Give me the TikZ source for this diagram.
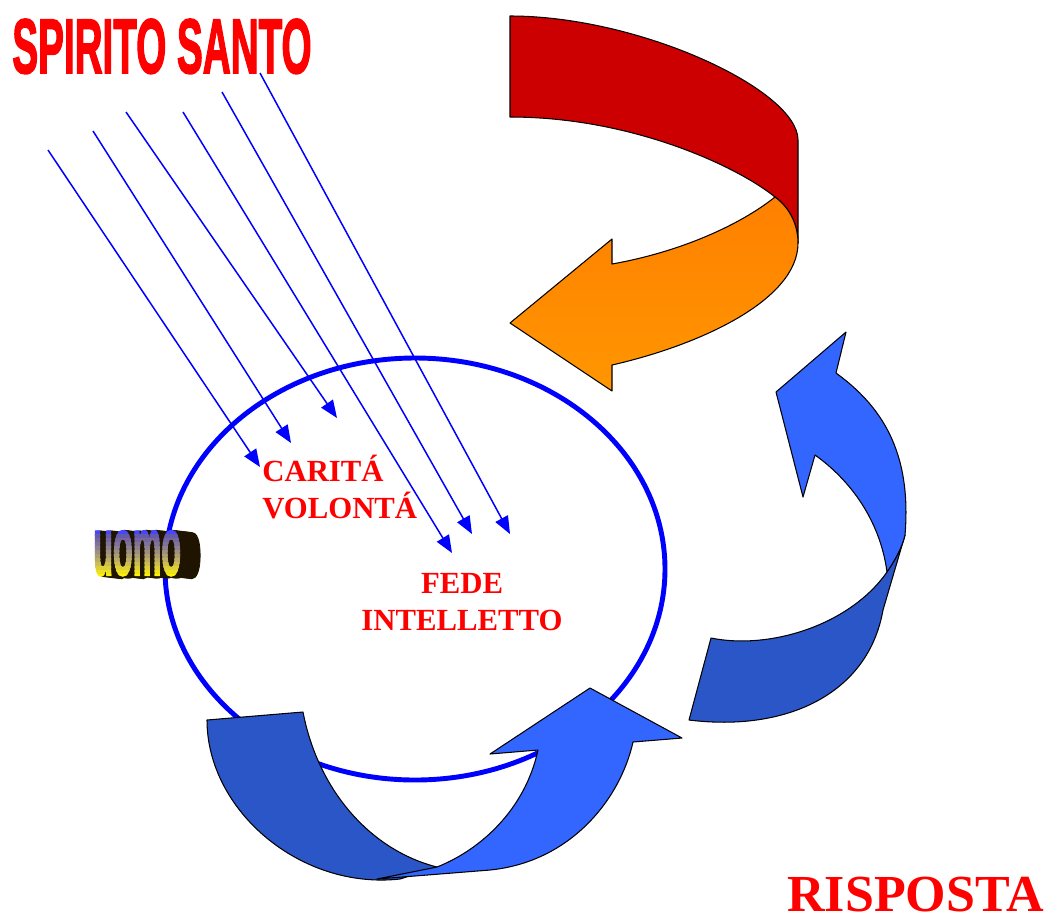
\documentclass[tikz,border=0pt]{standalone}
\usepackage{fontspec}
\usepackage{graphicx}
\setmainfont{Liberation Serif}
\newfontfamily\headfont{Liberation Sans Bold}[FakeBold=2.5]
\usetikzlibrary{arrows.meta}
\definecolor{redband}{RGB}{204,0,0}
\definecolor{orangetop}{RGB}{255,128,0}
\definecolor{orangebot}{RGB}{255,150,0}
\definecolor{darkblue}{RGB}{42,86,200}
\definecolor{lightblue}{RGB}{51,102,255}
\definecolor{uomoshade}{RGB}{30,20,0}
\definecolor{uomotop}{RGB}{70,70,255}
\tikzset{
  ray/.style={blue, line width=0.85pt, -{Triangle[length=10pt,width=8pt]}},
  ribbon/.style={draw=black, line width=0.6pt, line join=round},
  redtext/.style={text=red, inner sep=0pt, font=\bfseries\fontsize{17.5}{21}\selectfont},
  uomotext/.style={inner sep=0pt, anchor=base west, font=\headfont\fontsize{47}{47}\selectfont}
}
\begin{document}
\begin{tikzpicture}[x=0.02cm, y=-0.02cm]
\useasboundingbox (0,0) rectangle (1053,917);
\draw[blue, line width=2.8pt] (415,569) ellipse [x radius=250, y radius=211];
\foreach \n/\sx/\sy/\ex/\ey in {1/48/150/260/467, 2/93/131/291/443, 3/126/112/337/418, 4/183/112/452/553, 5/222/92/472/534, 6/260/73/510/534} {
  \coordinate (s\n) at (\sx,\sy);
  \coordinate (e\n) at (\ex,\ey);
  \draw[ray] (s\n) -- (e\n);
}
\node[anchor=base west, inner sep=0pt, text=red, font=\headfont\fontsize{44}{44}\selectfont] (spirito) at (12,73) {\scalebox{0.5}[1]{SPIRITO SANTO}};
\node[redtext, anchor=base west, align=left] (carita) at (262,518) {CARITÁ\\VOLONTÁ};
\node[redtext, anchor=base, align=center] (fede) at (462,630) {FEDE\\INTELLETTO};
\node[anchor=base west, inner sep=0pt, text=red, font=\bfseries\fontsize{29.6}{30}\selectfont] (risposta) at (787,911) {RISPOSTA};
\foreach \d in {1,...,12}
  \node[uomotext, text=uomoshade] (sh\d) at (93+\d*1.7,575+\d*0.2) {\scalebox{0.39}[1]{uomo}};
\foreach \k in {0,...,11} {
  \pgfmathsetmacro\p{100*\k/11}
  \begin{scope}
    \clip (85,530+\k*4) rectangle (200,535+\k*4);
    \node[uomotext, text=yellow!\p!uomotop] (u\k) at (93,575) {\scalebox{0.39}[1]{uomo}};
  \end{scope}
}
\draw[ribbon, fill=redband] (510,16) .. controls (640,16) and (798,90) .. (798,140) -- (798,243)
  .. controls (798,225) and (790,208) .. (775,197) .. controls (735,165) and (630,117) .. (510,117) -- cycle;
\draw[ribbon, top color=orangetop, bottom color=orangebot] (775,197) .. controls (740,225) and (680,252) .. (612,264)
  -- (612,239) -- (510,323) -- (612,391) -- (612,365) .. controls (700,345) and (798,300) .. (798,243)
  .. controls (798,225) and (790,208) .. (775,197) -- cycle;
\draw[ribbon, fill=darkblue] (207,720) -- (303,712) .. controls (318,790) and (370,850) .. (437,867)
  -- (400,879) .. controls (300,890) and (207,810) .. (207,720) -- cycle;
\draw[ribbon, fill=lightblue] (377,879) -- (490,870) .. controls (570,862) and (620,800) .. (633,742)
  -- (682,738) -- (590,688) -- (490,754) -- (538,750) .. controls (525,810) and (480,850) .. (437,867) -- cycle;
\draw[ribbon, fill=darkblue] (689,720) -- (711,638) .. controls (770,650) and (850,625) .. (887,572)
  .. controls (895,560) and (902,548) .. (905,535) -- (883,610) .. controls (868,695) and (785,732) .. (689,720) -- cycle;
\draw[ribbon, fill=lightblue] (887,572) .. controls (880,520) and (850,480) .. (815,455) -- (803,497) -- (776,392)
  -- (846,332) -- (836,373) .. controls (880,405) and (912,450) .. (905,535)
  .. controls (902,548) and (895,560) .. (887,572) -- cycle;
\end{tikzpicture}
\end{document}
